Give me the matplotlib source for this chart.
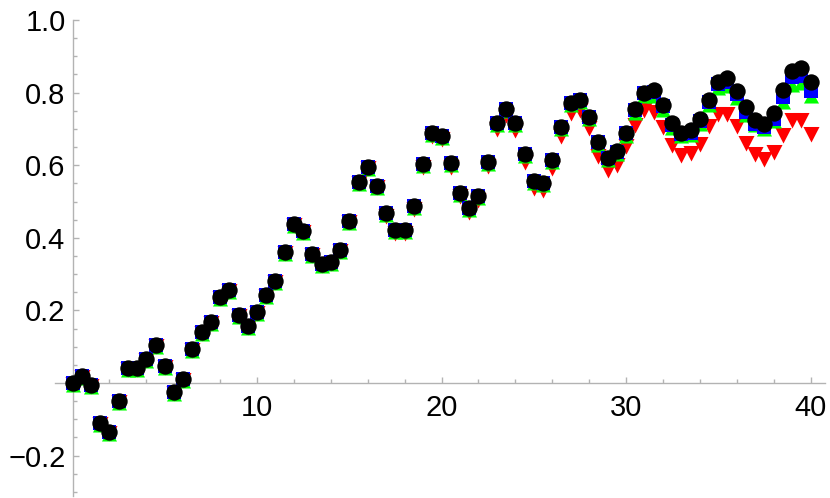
import numpy as np
import matplotlib
matplotlib.use("Agg")
import matplotlib.pyplot as plt
from matplotlib.ticker import MultipleLocator

plt.rcParams['font.family'] = ['Liberation Sans', 'DejaVu Sans']

# x positions: 0, 0.5, ..., 40
x = np.arange(0, 40.5, 0.5)

# black circles
black = [0.0, 0.02, -0.005, -0.11, -0.134, -0.049, 0.04, 0.042, 0.066, 0.105,
         0.047, -0.026, 0.011, 0.095, 0.141, 0.169, 0.238, 0.256, 0.187, 0.158,
         0.196, 0.242, 0.282, 0.362, 0.437, 0.419, 0.354, 0.329, 0.333, 0.366,
         0.446, 0.555, 0.596, 0.543, 0.469, 0.421, 0.421, 0.488, 0.602, 0.69,
         0.681, 0.605, 0.523, 0.481, 0.515, 0.61, 0.715, 0.755, 0.715, 0.631,
         0.556, 0.552, 0.614, 0.706, 0.772, 0.781, 0.734, 0.665, 0.621, 0.639,
         0.69, 0.755, 0.80, 0.808, 0.767, 0.715, 0.689, 0.696, 0.728, 0.78,
         0.83, 0.84, 0.805, 0.76, 0.725, 0.713, 0.745, 0.806, 0.86, 0.868,
         0.828]

# blue squares
blue = [0.0, 0.02, -0.005, -0.11, -0.134, -0.049, 0.04, 0.042, 0.066, 0.105,
        0.047, -0.026, 0.011, 0.095, 0.141, 0.169, 0.238, 0.256, 0.187, 0.158,
        0.196, 0.242, 0.282, 0.362, 0.437, 0.419, 0.354, 0.329, 0.333, 0.366,
        0.446, 0.555, 0.596, 0.543, 0.469, 0.421, 0.421, 0.488, 0.602, 0.69,
        0.681, 0.605, 0.523, 0.481, 0.515, 0.61, 0.715, 0.755, 0.715, 0.631,
        0.556, 0.552, 0.614, 0.706, 0.772, 0.781, 0.734, 0.664, 0.620, 0.637,
        0.688, 0.752, 0.80, 0.803, 0.762, 0.711, 0.686, 0.69, 0.722, 0.774,
        0.824, 0.829, 0.797, 0.747, 0.714, 0.705, 0.728, 0.788, 0.843, 0.845,
        0.804]

# green up-triangles
green = [0.0, 0.02, -0.005, -0.11, -0.134, -0.049, 0.04, 0.042, 0.066, 0.105,
         0.047, -0.026, 0.011, 0.095, 0.141, 0.169, 0.238, 0.256, 0.187, 0.158,
         0.196, 0.242, 0.282, 0.362, 0.437, 0.419, 0.354, 0.329, 0.333, 0.366,
         0.446, 0.555, 0.596, 0.543, 0.469, 0.421, 0.421, 0.488, 0.602, 0.69,
         0.681, 0.605, 0.523, 0.481, 0.515, 0.61, 0.715, 0.755, 0.715, 0.631,
         0.556, 0.552, 0.614, 0.706, 0.772, 0.781, 0.734, 0.662, 0.619, 0.636,
         0.687, 0.748, 0.795, 0.797, 0.758, 0.708, 0.685, 0.69, 0.72, 0.772,
         0.818, 0.823, 0.79, 0.745, 0.715, 0.705, 0.728, 0.781, 0.827, 0.832,
         0.795]

# red down-triangles
red = [0.0, 0.02, -0.005, -0.11, -0.134, -0.049, 0.04, 0.042, 0.066, 0.105,
       0.047, -0.026, 0.011, 0.095, 0.141, 0.169, 0.238, 0.256, 0.187, 0.158,
       0.196, 0.242, 0.282, 0.362, 0.437, 0.419, 0.354, 0.329, 0.333, 0.366,
       0.446, 0.555, 0.596, 0.543, 0.464, 0.416, 0.416, 0.483, 0.597, 0.684,
       0.675, 0.599, 0.517, 0.475, 0.508, 0.600, 0.702, 0.742, 0.699, 0.612,
       0.54, 0.535, 0.595, 0.682, 0.747, 0.756, 0.705, 0.629, 0.589, 0.604,
       0.655, 0.714, 0.754, 0.748, 0.708, 0.659, 0.632, 0.636, 0.662, 0.71,
       0.744, 0.744, 0.711, 0.664, 0.634, 0.62, 0.638, 0.686, 0.728, 0.728,
       0.689]

yticks = [-0.2, 0.2, 0.4, 0.6, 0.8, 1.0]
ytick_labels = ["\u22120.2", "0.2", "0.4", "0.6", "0.8", "1.0"]
xticks = [10, 20, 30, 40]

fig = plt.figure(figsize=(8.3, 4.98), dpi=100)
ax = fig.add_axes([0.0663, 0.005, 0.928, 0.9548])

# triangle shapes offset a little from the point, like the Mathematica markers
tri_up = [(-7.5, -9), (7.5, -9), (0, 4.5), (-7.5, -9)]
tri_down = [(-8, 6.5), (8, 6.5), (0, -9), (-8, 6.5)]

ax.plot(x, red, linestyle="none", marker=tri_down, markersize=13, color=(1, 0, 0), mew=0, zorder=3)
ax.plot(x, green, linestyle="none", marker=tri_up, markersize=13, color=(0, 1, 0), mew=0, zorder=4)
ax.plot(x, blue, linestyle="none", marker="s", markersize=9.4, color=(0, 0, 1), mew=0, zorder=5)
ax.plot(x, black, linestyle="none", marker="o", markersize=11.8, color="black", mew=0, zorder=6)

ax.set_xlim(-0.95, 40.8)
ax.set_ylim(-0.31, 1.0)

# axes crossing at origin
for s in ["top", "right"]:
    ax.spines[s].set_visible(False)
ax.spines["left"].set_position(("data", 0))
ax.spines["bottom"].set_position(("data", 0))
for s in ["left", "bottom"]:
    ax.spines[s].set_color("#b3b3b3")
    ax.spines[s].set_linewidth(1.0)
    ax.spines[s].set_zorder(1)

ax.set_yticks(yticks)
ax.set_yticklabels(ytick_labels)
ax.set_xticks(xticks)
ax.set_xticklabels([str(t) for t in xticks])
ax.xaxis.set_minor_locator(MultipleLocator(2))
ax.yaxis.set_minor_locator(MultipleLocator(0.05))

ax.tick_params(which="both", direction="in", color="#b3b3b3", width=1.0,
               labelsize=21, labelcolor="black")
ax.tick_params(which="major", length=4.5)
ax.tick_params(which="minor", length=3)
ax.tick_params(axis="y", pad=5)
ax.tick_params(axis="x", pad=8)

fig.savefig("out.png", dpi=100)
